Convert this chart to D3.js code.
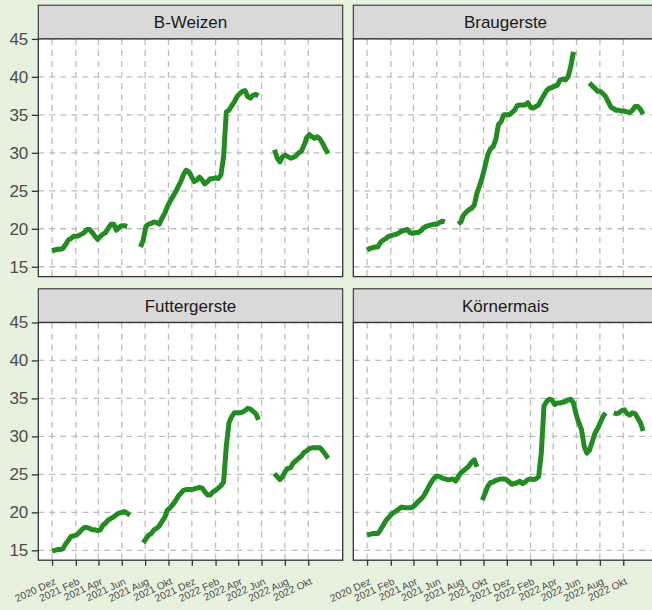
<!DOCTYPE html>
<html>
<head>
<meta charset="utf-8">
<script src="https://cdn.jsdelivr.net/npm/d3@7"></script>
<style>
  body { margin: 0; background: #e6f1de; }
  text { font-family: "Liberation Sans", Arial, sans-serif; }
</style>
</head>
<body>
<script>
// Wochenpreise (EUR/dt), wöchentlich ab 1. Dez 2020, null = keine Notierung
const startDate = new Date(2020, 11, 1);
const nWeeks = 104;

const weizen = [
  17.1,17.2,17.3,17.3,17.4,17.9,18.5,18.7,19.0,19.0,19.1,19.3,19.5,19.9,19.9,19.5,19.0,18.6,19.0,19.3,19.5,20.1,20.6,20.6,19.8,20.2,20.4,20.4,20.3,
  null,null,null,null,
  17.6,18.5,20.3,20.6,20.7,20.9,20.8,20.6,21.4,22.0,22.9,23.6,24.2,24.8,25.5,26.2,27.1,27.7,27.5,26.9,26.2,26.4,26.8,26.4,25.9,26.2,26.6,26.6,26.7,26.6,27.1,29.5,35.4,35.6,36.2,36.7,37.4,37.8,38.1,38.2,37.4,37.2,37.6,37.7,37.5,
  null,null,null,null,null,
  30.4,29.3,28.8,29.5,29.7,29.5,29.3,29.4,29.6,30.0,30.2,31.0,32.0,32.4,32.1,31.9,32.1,31.8,31.2,30.5,29.9
];
const braugerste = [
  17.2,17.4,17.5,17.6,17.6,18.2,18.5,18.7,19.0,19.1,19.2,19.3,19.5,19.7,19.8,19.9,19.5,19.4,19.5,19.5,19.7,20.1,20.3,20.4,20.5,20.6,20.6,20.8,21.0,20.9,
  null,null,null,null,
  20.6,20.9,21.8,22.2,22.5,22.7,23.1,24.7,25.7,26.8,28.2,29.7,30.5,30.8,31.7,33.7,34.1,35.0,35.0,35.0,35.3,35.6,36.2,36.3,36.3,36.3,36.6,36.0,35.9,36.1,36.3,37.0,37.6,38.2,38.5,38.6,38.8,38.9,39.6,39.7,39.6,40.0,41.4,43.3,
  null,null,null,null,null,
  39.2,38.8,38.5,38.1,38.1,37.8,37.4,36.7,36.0,35.8,35.6,35.6,35.5,35.5,35.4,35.3,35.6,36.1,36.1,35.7,35.1
];
const futtergerste = [
  14.9,15.0,15.1,15.1,15.2,15.8,16.3,16.8,16.9,17.0,17.3,17.7,18.0,18.0,17.9,17.7,17.7,17.6,17.7,18.3,18.6,19.0,19.2,19.4,19.7,19.9,20.0,20.1,19.9,19.6,
  null,null,null,null,
  16.0,16.5,17.0,17.2,17.7,17.9,18.2,18.8,19.3,20.3,20.6,21.0,21.5,22.1,22.5,22.9,23.0,23.0,23.0,23.1,23.2,23.3,23.2,22.7,22.3,22.3,22.7,22.9,23.2,23.5,24.0,28.7,31.8,32.6,33.1,33.1,33.1,33.2,33.4,33.7,33.6,33.3,33.0,32.2,
  null,null,null,null,null,
  25.1,24.7,24.3,24.7,25.4,25.8,25.9,26.5,26.8,27.1,27.4,27.9,28.1,28.4,28.5,28.5,28.5,28.5,28.1,27.6,27.1
];
const koernermais = [
  17.0,17.1,17.2,17.2,17.2,17.7,18.3,18.9,19.3,19.7,20.0,20.2,20.5,20.7,20.6,20.6,20.6,20.7,21.0,21.4,21.7,22.1,22.7,23.4,24.0,24.5,24.8,24.7,24.5,24.4,24.3,24.3,24.4,24.1,24.7,25.2,25.5,25.8,26.1,26.6,26.9,26.0,
  null,
  21.6,22.5,23.4,23.9,24.0,24.2,24.3,24.4,24.4,24.3,24.0,23.7,23.8,23.9,24.1,23.8,24.0,24.3,24.4,24.3,24.4,24.7,27.8,34.0,34.6,34.9,34.8,34.2,34.4,34.4,34.5,34.6,34.8,34.9,34.4,32.9,31.8,30.9,28.7,27.8,28.2,29.3,30.4,31.0,31.8,32.6,33.1,
  null,null,
  33.1,33.0,33.1,33.4,33.5,33.0,32.8,33.1,33.0,32.4,31.8,30.7
];

const panelNames = ['B-Weizen', 'Braugerste', 'Futtergerste', 'Körnermais'];
const panelValues = [weizen, braugerste, futtergerste, koernermais];

const yTicks = [15, 20, 25, 30, 35, 40, 45];
const xTickDates = [
  new Date(2020,11,1), new Date(2021,1,1), new Date(2021,3,1), new Date(2021,5,1),
  new Date(2021,7,1), new Date(2021,9,1), new Date(2021,11,1), new Date(2022,1,1),
  new Date(2022,3,1), new Date(2022,5,1), new Date(2022,7,1), new Date(2022,9,1)
];
const xTickLabels = ['2020 Dez','2021 Feb','2021 Apr','2021 Jun','2021 Aug','2021 Okt',
                     '2021 Dez','2022 Feb','2022 Apr','2022 Jun','2022 Aug','2022 Okt'];

const weeks = d3.range(nWeeks).map(k => d3.timeDay.offset(startDate, 7 * k));

// layout
const W = 652, H = 610;
const colX = [38.3, 353.3];
const rowY = [5.2, 288.8];
const stripH = 33.7, panelW = 304.4, panelH = 237.7;

const svg = d3.select('body').append('svg').attr('width', W).attr('height', H);
svg.append('rect').attr('width', W).attr('height', H).attr('fill', '#e6f1de');

const x = d3.scaleTime()
  .domain([new Date(2020, 9, 26), new Date(2022, 11, 30)])
  .range([0, panelW]);
const y = d3.scaleLinear().domain([13.7, 45]).range([panelH, 0]);

const line = d3.line()
  .defined(d => d.v != null)
  .x(d => x(d.date))
  .y(d => y(d.v));

panelNames.forEach((name, i) => {
  const col = i % 2, row = Math.floor(i / 2);
  const g = svg.append('g')
    .attr('transform', `translate(${colX[col]},${rowY[row]})`);

  // strip
  g.append('rect')
    .attr('width', panelW).attr('height', stripH)
    .attr('fill', '#d9d9d9').attr('stroke', '#333').attr('stroke-width', 1.1);
  g.append('text')
    .attr('x', panelW / 2).attr('y', stripH / 2)
    .attr('dy', '0.36em').attr('text-anchor', 'middle')
    .attr('font-size', 17).attr('fill', '#1a1a1a')
    .text(name);

  const p = g.append('g').attr('transform', `translate(0,${stripH})`);
  p.append('rect').attr('width', panelW).attr('height', panelH).attr('fill', '#fff');

  // grid
  p.selectAll('.hgrid').data(yTicks).join('line')
    .attr('x1', 0).attr('x2', panelW)
    .attr('y1', d => y(d)).attr('y2', d => y(d))
    .attr('stroke', '#bdbdbd').attr('stroke-width', 1.3)
    .attr('stroke-dasharray', '6,5');
  p.selectAll('.vgrid').data(xTickDates).join('line')
    .attr('x1', d => x(d)).attr('x2', d => x(d))
    .attr('y1', 0).attr('y2', panelH)
    .attr('stroke', '#bdbdbd').attr('stroke-width', 1.3)
    .attr('stroke-dasharray', '6,5');

  // data
  const series = weeks.map((date, k) => ({ date, v: panelValues[i][k] }));
  p.append('path')
    .datum(series)
    .attr('d', line)
    .attr('fill', 'none')
    .attr('stroke', '#228b22')
    .attr('stroke-width', 5)
    .attr('stroke-linejoin', 'round');

  p.append('rect').attr('width', panelW).attr('height', panelH)
    .attr('fill', 'none').attr('stroke', '#333').attr('stroke-width', 1.3);

  // axes
  if (col === 0) {
    const ya = p.append('g').call(d3.axisLeft(y).tickValues(yTicks).tickSize(6.5).tickPadding(3.5));
    ya.select('.domain').remove();
    ya.selectAll('line').attr('stroke', '#333').attr('stroke-width', 1.3);
    ya.selectAll('text').attr('font-size', 17).attr('fill', '#4d4d4d')
      .attr('font-family', '"Liberation Sans", Arial, sans-serif');
  }
  if (row === 1) {
    const xa = p.append('g').attr('transform', `translate(0,${panelH})`)
      .call(d3.axisBottom(x).tickValues(xTickDates).tickSize(5.5)
        .tickFormat((d, j) => xTickLabels[j]));
    xa.select('.domain').remove();
    xa.selectAll('line').attr('stroke', '#333').attr('stroke-width', 1.3);
    xa.selectAll('text')
      .attr('font-size', 10.2).attr('fill', '#4d4d4d')
      .attr('font-family', '"Liberation Sans", Arial, sans-serif')
      .attr('text-anchor', 'end')
      .attr('x', 0).attr('y', 0).attr('dy', '0.71em')
      .attr('transform', 'translate(1,17) rotate(-25)');
  }
});
</script>
</body>
</html>
